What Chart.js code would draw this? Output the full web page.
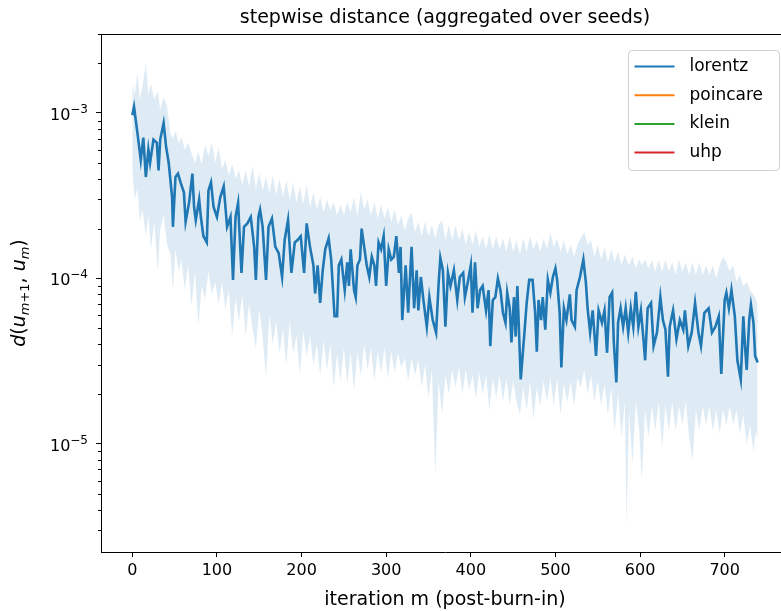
<!DOCTYPE html>
<html>
<head>
<meta charset="utf-8">
<script src="https://cdn.jsdelivr.net/npm/chart.js@4.4.0/dist/chart.umd.min.js"></script>
<style>
  html, body { margin: 0; padding: 0; overflow: hidden; background: #fff; }
  canvas { display: block; }
</style>
</head>
<body>
<canvas id="myChart" width="800" height="611"></canvas>
<script>
// ---- data ----
// iteration index of each sample of the mean curve
const iterations = [0,2,6,10,13,16,19,21,25,29,31,33,37,40,43,47,48,51,54,57,61,63,67,71,73,75,79,81,84,88,90,93,96,100,104,108,112,116,119,122,125,129,132,136,140,144,146,149,151,154,158,161,165,169,173,177,180,184,188,192,195,199,203,206,210,214,216,219,222,225,228,232,235,239,242,244,247,251,254,256,258,262,264,266,269,271,274,277,280,283,286,288,291,294,297,300,303,306,309,312,315,317,319,323,326,330,333,336,338,341,344,348,351,355,359,362,364,367,370,373,376,380,384,387,391,393,397,400,402,405,408,411,414,418,421,423,426,429,432,435,438,441,443,446,448,451,453,455,459,463,466,469,473,476,478,480,483,485,488,491,494,497,500,502,505,507,510,513,517,519,523,525,529,533,536,538,541,544,548,551,555,558,561,564,567,569,572,574,577,580,583,586,589,592,595,598,601,604,606,609,613,616,620,624,627,630,633,635,639,643,647,651,653,657,661,665,669,672,676,681,685,689,693,696,700,702,705,708,712,715,719,722,724,726,729,731,734,736,739];
// mean stepwise distance (lorentz)
const lorentzMean = [9.7e-4,1.09e-3,7.6e-4,5.2e-4,7.1e-4,4.1e-4,6.0e-4,5.0e-4,6.9e-4,6.6e-4,4.5e-4,6.9e-4,8.7e-4,6.2e-4,5.0e-4,3.1e-4,2.05e-4,4.1e-4,4.3e-4,3.8e-4,3.3e-4,2.2e-4,2.85e-4,4.3e-4,2.7e-4,2.25e-4,3.0e-4,2.35e-4,1.8e-4,1.65e-4,3.4e-4,3.8e-4,2.7e-4,2.35e-4,3.1e-4,3.6e-4,2.05e-4,2.35e-4,9.8e-5,2.35e-4,2.85e-4,1.08e-4,2.05e-4,2.15e-4,2.35e-4,1.55e-4,9.8e-5,2.35e-4,2.6e-4,2.05e-4,9.8e-5,2.05e-4,2.3e-4,1.55e-4,1.42e-4,1.02e-4,1.7e-4,2.25e-4,1.08e-4,1.65e-4,1.7e-4,1.8e-4,1.08e-4,2.15e-4,1.55e-4,1.2e-4,8.1e-5,1.2e-4,7.1e-5,1.12e-4,1.5e-4,1.75e-4,1.3e-4,5.9e-5,5.9e-5,1.2e-4,1.3e-4,8.5e-5,1.25e-4,9.0e-5,1.5e-4,8.5e-5,7.7e-5,1.2e-4,1.3e-4,2.0e-4,1.55e-4,1.2e-4,1.02e-4,1.35e-4,1.2e-4,9.0e-5,1.65e-4,1.5e-4,1.8e-4,9.0e-5,1.5e-4,1.3e-4,1.35e-4,1.8e-4,1.08e-4,1.55e-4,5.6e-5,1.2e-4,6.2e-5,1.55e-4,6.6e-5,1.12e-4,6.4e-5,1.02e-4,7.4e-5,5.1e-5,7.7e-5,5.6e-5,4.7e-5,9.4e-5,1.33e-4,1.12e-4,5.1e-5,1.08e-4,9.0e-5,1.12e-4,7.4e-5,1.02e-4,1.08e-4,7.7e-5,9.8e-5,1.2e-4,6.2e-5,1.25e-4,6.6e-5,8.5e-5,9.0e-5,6.4e-5,8.5e-5,3.9e-5,7.4e-5,7.7e-5,1.0e-4,8.5e-5,6.2e-5,5.4e-5,8.2e-5,6.6e-5,4.1e-5,7.7e-5,4.45e-5,9.0e-5,2.45e-5,4.45e-5,7.1e-5,9.8e-5,9.8e-5,6.2e-5,3.6e-5,7.4e-5,5.6e-5,7.7e-5,4.9e-5,9.8e-5,8.2e-5,1.02e-4,1.15e-4,9.8e-5,6.2e-5,2.9e-5,6.6e-5,5.6e-5,8.0e-5,5.6e-5,5.1e-5,8.5e-5,1.02e-4,1.3e-4,9.4e-5,6.6e-5,4.7e-5,6.4e-5,3.4e-5,6.4e-5,5.4e-5,6.4e-5,3.55e-5,7.7e-5,8.2e-5,4.1e-5,2.35e-5,5.4e-5,6.6e-5,5.1e-5,6.6e-5,4.7e-5,6.6e-5,5.1e-5,8.3e-5,5.1e-5,6.4e-5,4.3e-5,3.2e-5,6.6e-5,7.1e-5,3.9e-5,4.7e-5,7.7e-5,5.6e-5,4.9e-5,2.55e-5,5.1e-5,6.4e-5,4.3e-5,5.6e-5,4.9e-5,6.4e-5,3.9e-5,4.7e-5,7.1e-5,4.7e-5,3.9e-5,6.2e-5,6.6e-5,4.7e-5,5.1e-5,5.9e-5,2.65e-5,7.4e-5,8.2e-5,6.6e-5,8.5e-5,5.9e-5,3.2e-5,2.45e-5,5.9e-5,3.9e-5,2.8e-5,5.6e-5,6.9e-5,5.4e-5,3.4e-5,3.1e-5];

// spread over seeds (shaded band), upper and lower edge
const bandIterations = [0,3,6,9,12,16,19,22,26,30,33,37,41,45,48,51,55,58,62,66,70,74,78,82,86,90,94,98,102,106,110,114,118,122,126,130,134,138,142,146,150,154,158,162,166,170,174,178,182,186,190,194,198,202,206,210,214,218,222,226,230,234,238,242,246,250,254,258,262,266,270,274,278,282,286,290,294,298,302,306,310,314,318,322,326,330,334,338,342,346,350,354,358,362,366,370,374,378,382,386,390,394,398,402,406,410,414,418,422,426,430,434,438,442,446,450,454,458,462,466,470,474,478,482,486,490,494,498,502,506,510,514,518,522,526,530,534,538,542,546,550,554,558,562,566,570,574,578,582,584,587,591,595,599,602,606,610,614,618,622,626,630,634,638,642,646,650,654,658,662,666,670,674,678,682,686,690,694,698,702,706,710,714,718,722,726,730,734,737,739];
const bandUpper = [1.5e-3,1.3e-3,1.75e-3,1.2e-3,1.45e-3,2.0e-3,1.3e-3,1.5e-3,1.2e-3,1.35e-3,1.05e-3,1.25e-3,1.1e-3,7.5e-4,7.0e-4,7.8e-4,6.5e-4,7.2e-4,6.0e-4,6.6e-4,5.7e-4,5.0e-4,5.8e-4,4.9e-4,6.4e-4,5.5e-4,6.6e-4,5.0e-4,6.2e-4,4.6e-4,5.2e-4,4.2e-4,4.9e-4,4.0e-4,4.5e-4,3.7e-4,4.5e-4,3.6e-4,4.8e-4,3.5e-4,4.3e-4,3.4e-4,4.1e-4,3.3e-4,4.2e-4,3.2e-4,4.0e-4,3.1e-4,3.9e-4,3.0e-4,3.8e-4,2.9e-4,3.6e-4,2.8e-4,3.7e-4,2.7e-4,3.3e-4,2.6e-4,3.1e-4,2.5e-4,3.0e-4,2.6e-4,2.9e-4,2.4e-4,2.8e-4,2.4e-4,2.9e-4,2.5e-4,3.1e-4,2.4e-4,3.3e-4,2.6e-4,3.0e-4,2.4e-4,2.9e-4,2.3e-4,2.8e-4,2.3e-4,2.7e-4,2.2e-4,2.6e-4,2.1e-4,2.4e-4,1.95e-4,2.3e-4,2.5e-4,1.9e-4,2.2e-4,1.8e-4,2.2e-4,1.8e-4,2.1e-4,1.75e-4,2.1e-4,2.25e-4,1.7e-4,2.1e-4,1.7e-4,2.1e-4,1.7e-4,2.0e-4,1.6e-4,1.9e-4,1.6e-4,1.95e-4,1.55e-4,1.8e-4,1.5e-4,1.85e-4,1.5e-4,1.8e-4,1.5e-4,1.75e-4,1.45e-4,1.8e-4,1.45e-4,1.7e-4,1.4e-4,1.75e-4,1.45e-4,1.8e-4,1.5e-4,1.7e-4,1.45e-4,1.75e-4,1.5e-4,1.9e-4,1.55e-4,1.75e-4,1.45e-4,1.7e-4,1.4e-4,1.6e-4,1.35e-4,1.6e-4,1.75e-4,1.9e-4,1.6e-4,1.7e-4,1.35e-4,1.6e-4,1.3e-4,1.55e-4,1.25e-4,1.5e-4,1.25e-4,1.45e-4,1.2e-4,1.4e-4,1.3e-4,1.2e-4,1.35e-4,1.15e-4,1.3e-4,1.2e-4,1.3e-4,1.15e-4,1.3e-4,1.1e-4,1.3e-4,1.1e-4,1.3e-4,1.1e-4,1.25e-4,1.05e-4,1.3e-4,1.1e-4,1.25e-4,1.05e-4,1.25e-4,1.05e-4,1.25e-4,1.05e-4,1.2e-4,1.05e-4,1.2e-4,1.0e-4,1.2e-4,1.35e-4,1.25e-4,1.1e-4,1.2e-4,9.5e-5,1.05e-4,9.0e-5,9.5e-5,8.5e-5,8.0e-5,7.5e-5,7.0e-5];
const bandLower = [4.5e-4,3.0e-4,3.5e-4,2.2e-4,2.6e-4,1.8e-4,2.4e-4,1.5e-4,2.2e-4,1.1e-4,2.0e-4,2.4e-4,1.6e-4,1.4e-4,8.5e-5,1.5e-4,1.1e-4,1.3e-4,8.5e-5,1.2e-4,6.8e-5,1.1e-4,5.2e-5,9.0e-5,7.5e-5,1.1e-4,8.0e-5,9.5e-5,7.0e-5,9.5e-5,6.5e-5,8.5e-5,4.5e-5,7.5e-5,5.5e-5,8.0e-5,4.5e-5,7.0e-5,5.0e-5,3.8e-5,6.5e-5,4.5e-5,2.5e-5,6.0e-5,4.0e-5,5.5e-5,3.5e-5,5.0e-5,3.0e-5,5.5e-5,3.5e-5,4.5e-5,2.6e-5,4.8e-5,3.4e-5,4.5e-5,3.0e-5,4.0e-5,2.6e-5,4.2e-5,2.8e-5,4.0e-5,2.2e-5,3.5e-5,2.4e-5,3.8e-5,2.3e-5,3.6e-5,2.1e-5,3.6e-5,2.6e-5,4.0e-5,2.8e-5,3.8e-5,2.4e-5,3.6e-5,2.7e-5,3.8e-5,2.5e-5,3.6e-5,2.7e-5,3.5e-5,2.9e-5,3.3e-5,2.4e-5,3.3e-5,2.6e-5,3.2e-5,2.2e-5,3.0e-5,1.9e-5,2.8e-5,6.5e-6,2.4e-5,1.5e-5,2.6e-5,2.0e-5,2.8e-5,2.2e-5,2.9e-5,2.0e-5,2.8e-5,2.1e-5,2.6e-5,1.9e-5,2.7e-5,2.0e-5,2.6e-5,1.6e-5,2.5e-5,1.9e-5,2.6e-5,1.8e-5,2.5e-5,1.7e-5,2.4e-5,1.8e-5,1.5e-5,2.2e-5,1.6e-5,2.4e-5,1.4e-5,2.2e-5,1.7e-5,2.4e-5,1.8e-5,2.5e-5,1.7e-5,2.5e-5,1.5e-5,2.3e-5,1.8e-5,2.4e-5,1.7e-5,2.5e-5,2.2e-5,2.8e-5,2.0e-5,2.6e-5,1.8e-5,2.4e-5,1.7e-5,2.3e-5,1.5e-5,2.2e-5,1.2e-5,2.0e-5,1.1e-5,1.8e-5,3.2e-6,1.6e-5,7.5e-6,1.8e-5,1.2e-5,6.0e-6,1.6e-5,1.1e-5,1.7e-5,1.2e-5,1.8e-5,9.5e-6,1.7e-5,1.2e-5,1.8e-5,1.2e-5,1.7e-5,1.3e-5,1.8e-5,1.1e-5,8.0e-6,1.6e-5,1.2e-5,1.7e-5,1.3e-5,1.7e-5,1.2e-5,1.6e-5,1.15e-5,1.6e-5,1.3e-5,1.7e-5,1.3e-5,1.6e-5,1.15e-5,1.5e-5,1.0e-5,1.3e-5,9.0e-6,1.2e-5,1.05e-5];

const seriesNames = ["lorentz", "poincare", "klein", "uhp"];
const seriesColors = ["#1f77b4", "#ff7f0e", "#2ca02c", "#d62728"];   // matplotlib tab10

const xTickValues = [0, 100, 200, 300, 400, 500, 600, 700];
const yMajorTicks = [1e-3, 1e-4, 1e-5];
const yTickExponents = ["\u22123", "\u22124", "\u22125"];

const FONT = "'DejaVu Sans', sans-serif";
Chart.defaults.font.family = FONT;
Chart.defaults.color = "#000";

// ---- title, y label, y tick labels, top spine, minor ticks and legend box ----
const decorations = {
  id: "decorations",
  afterDraw(chart) {
    const ctx = chart.ctx;
    const area = chart.chartArea;
    const yScale = chart.scales.y;
    ctx.save();

    // top spine (right spine falls outside the picture)
    ctx.strokeStyle = "#000";
    ctx.lineWidth = 1;
    ctx.beginPath();
    ctx.moveTo(area.left, Math.round(area.top) + 0.5);
    ctx.lineTo(area.right, Math.round(area.top) + 0.5);
    ctx.stroke();

    // minor log ticks 2..9 on y
    ctx.beginPath();
    for (let d = -6; d <= -3; d++) {
      for (let k = 2; k <= 9; k++) {
        const v = k * Math.pow(10, d);
        if (v < yScale.min || v > yScale.max) continue;
        const py = Math.round(yScale.getPixelForValue(v)) + 0.5;
        ctx.moveTo(area.left - 3, py);
        ctx.lineTo(area.left, py);
      }
    }
    ctx.stroke();

    // y tick labels 10^-k with a real superscript
    ctx.fillStyle = "#000";
    ctx.textAlign = "left";
    ctx.textBaseline = "alphabetic";
    yMajorTicks.forEach((v, i) => {
      const py = yScale.getPixelForValue(v);
      ctx.font = "16px " + FONT;
      const wBase = ctx.measureText("10").width;
      ctx.font = "12px " + FONT;
      const wExp = ctx.measureText(yTickExponents[i]).width;
      const x0 = area.left - 13 - wBase - wExp;
      ctx.font = "16px " + FONT;
      ctx.fillText("10", x0, py + 7);
      ctx.font = "12px " + FONT;
      ctx.fillText(yTickExponents[i], x0 + wBase, py);
    });

    // title
    ctx.font = "19px " + FONT;
    ctx.textAlign = "center";
    ctx.textBaseline = "middle";
    ctx.fillText("stepwise distance (aggregated over seeds)", (area.left + area.right) / 2, 18);

    // y label  d(u_{m+1}, u_m)
    const parts = [
      { t: "d", it: true }, { t: "(", it: false }, { t: "u", it: true },
      { t: "m", it: true, sub: true }, { t: "+1", it: false, sub: true },
      { t: ", ", it: false }, { t: "u", it: true },
      { t: "m", it: true, sub: true }, { t: ")", it: false }
    ];
    const fontFor = (p) => (p.it ? "oblique " : "") + (p.sub ? "13px " : "19px ") + FONT;
    let total = 0;
    parts.forEach((p) => { ctx.font = fontFor(p); p.w = ctx.measureText(p.t).width; total += p.w; });
    ctx.translate(19, (area.top + area.bottom) / 2);
    ctx.rotate(-Math.PI / 2);
    ctx.textAlign = "left";
    ctx.textBaseline = "alphabetic";
    let cx = -total / 2;
    parts.forEach((p) => {
      ctx.font = fontFor(p);
      ctx.fillText(p.t, cx, p.sub ? 10 : 6);
      cx += p.w;
    });
    ctx.setTransform(1, 0, 0, 1, 0, 0);

    // legend (upper right, inside axes)
    const boxW = 151, boxH = 120;
    const bx = area.right - 10 - boxW + 0.5;
    const by = area.top + 16 + 0.5;
    ctx.fillStyle = "rgba(255,255,255,0.8)";
    ctx.strokeStyle = "#d0d0d0";
    ctx.lineWidth = 1;
    ctx.beginPath();
    ctx.roundRect(bx, by, boxW, boxH, 4);
    ctx.fill();
    ctx.stroke();
    ctx.font = "17px " + FONT;
    ctx.textAlign = "left";
    ctx.textBaseline = "middle";
    chart.data.datasets.filter((ds) => ds.inLegend).forEach((ds, i) => {
      const ly = by + 16 + i * 28.7;
      ctx.strokeStyle = ds.borderColor;
      ctx.lineWidth = 2;
      ctx.beginPath();
      ctx.moveTo(bx + 6, ly);
      ctx.lineTo(bx + 46, ly);
      ctx.stroke();
      ctx.fillStyle = "#000";
      ctx.fillText(ds.label, bx + 61, ly);
    });
    ctx.restore();
  }
};

function toPoints(xs, ys) {
  return xs.map((x, i) => ({ x: x, y: ys[i] }));
}

const datasets = seriesNames.map((name, i) => ({
  label: name,
  inLegend: true,
  data: i === 0 ? toPoints(iterations, lorentzMean) : [],
  borderColor: seriesColors[i],
  borderWidth: 2.6,
  pointRadius: 0,
  fill: false,
  tension: 0
}));

// shaded band between upper and lower
datasets.push({
  label: "band upper",
  data: toPoints(bandIterations, bandUpper),
  borderWidth: 0,
  pointRadius: 0,
  backgroundColor: "rgba(31,119,180,0.15)",
  fill: "+1"
});
datasets.push({
  label: "band lower",
  data: toPoints(bandIterations, bandLower),
  borderWidth: 0,
  pointRadius: 0,
  fill: false
});

const ctx = document.getElementById("myChart").getContext("2d");
const myChart = new Chart(ctx, {
  type: "line",
  data: { datasets: datasets },
  options: {
    responsive: false,
    animation: false,
    events: [],
    layout: { padding: { top: 34, right: 11, left: 0, bottom: 0 } },
    plugins: {
      legend: { display: false },
      tooltip: { enabled: false },
      title: { display: false }
    },
    scales: {
      x: {
        type: "linear",
        min: -37,
        max: 776,
        afterFit: (scale) => { scale.height = 59; },
        afterBuildTicks: (scale) => { scale.ticks = xTickValues.map((v) => ({ value: v })); },
        ticks: { font: { size: 16 }, color: "#000", padding: 4, maxRotation: 0, autoSkip: false },
        grid: { display: true, drawOnChartArea: false, drawTicks: true, tickLength: 5, tickColor: "#000" },
        border: { display: true, color: "#000", width: 1 },
        title: { display: true, text: "iteration m (post-burn-in)", font: { size: 19 }, color: "#000", padding: { top: 0, bottom: 0 } }
      },
      y: {
        type: "logarithmic",
        min: 2.22e-6,
        max: 3.0e-3,
        afterFit: (scale) => { scale.width = 101; },
        afterBuildTicks: (scale) => { scale.ticks = yMajorTicks.map((v) => ({ value: v, major: true })); },
        ticks: { display: false },
        grid: { display: true, drawOnChartArea: false, drawTicks: true, tickLength: 5, tickColor: "#000" },
        border: { display: true, color: "#000", width: 1 }
      }
    }
  },
  plugins: [decorations]
});
</script>
</body>
</html>
